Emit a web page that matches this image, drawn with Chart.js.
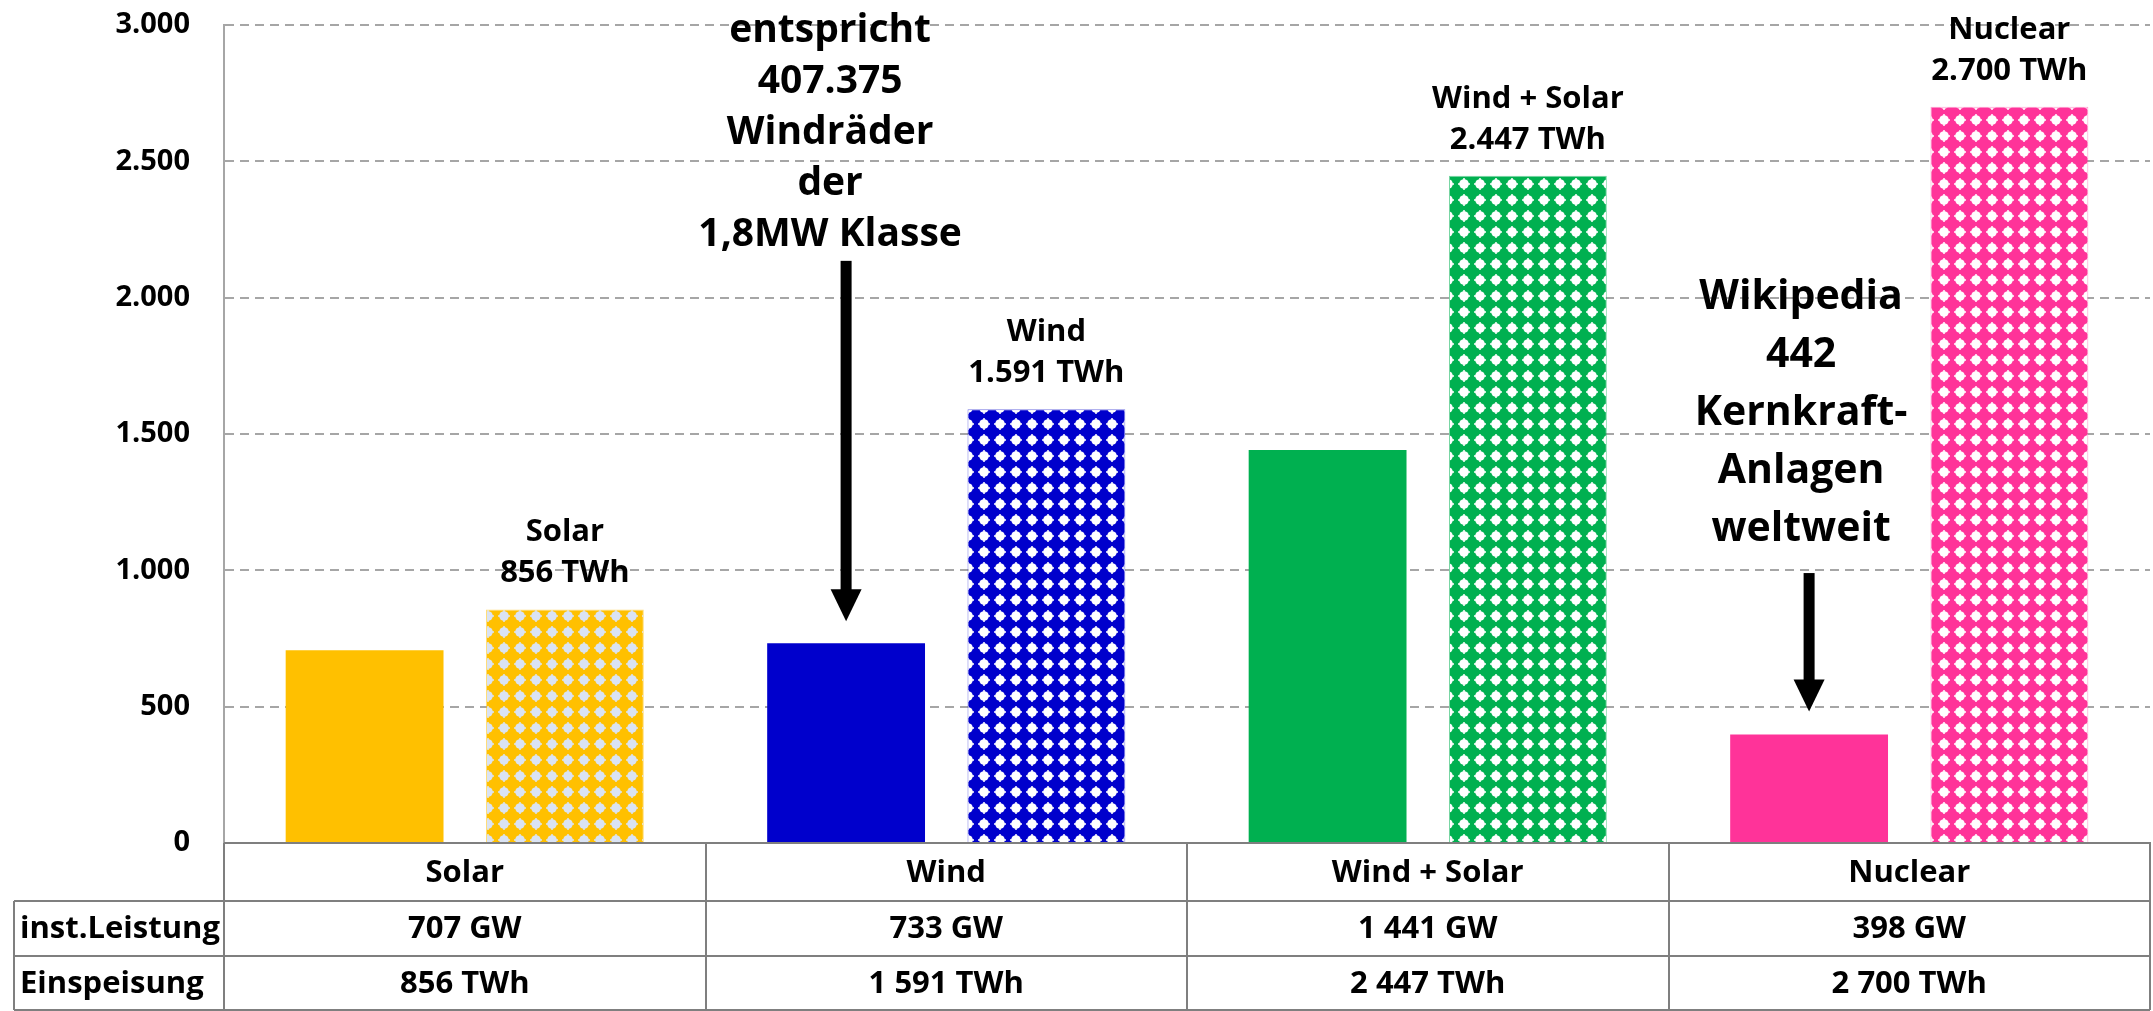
<!DOCTYPE html>
<html>
<head>
<meta charset="utf-8">
<script src="https://cdn.jsdelivr.net/npm/chart.js@4.4.0/dist/chart.umd.min.js"></script>
<style>
  html, body { margin: 0; padding: 0; background: #fff; }
  #wrap { width: 2153px; height: 1011px; }
</style>
</head>
<body>
<div id="wrap"><canvas id="chart" width="2153" height="1011"></canvas></div>
<script>
// values
const categories = ['Solar', 'Wind', 'Wind + Solar', 'Nuclear'];
const installedGW = [707, 733, 1441, 398];
const generationTWh = [856, 1591, 2447, 2700];
const yTicks = [0, 500, 1000, 1500, 2000, 2500, 3000];
const rowLabels = ['inst.Leistung', 'Einspeisung'];
const windNote = ['entspricht', '407.375', 'Windräder', 'der', '1,8MW Klasse'];
const nuclearNote = ['Wikipedia', '442', 'Kernkraft-', 'Anlagen', 'weltweit'];

const barColors = ['#FFC000', '#0000CC', '#00B050', '#FF3399'];
const dotColors = ['#DAE3F3', '#FFFFFF', '#FFFFFF', '#FFFFFF'];
const FONT = "'Open Sans', sans-serif";
const LINE = '#7F7F7F';

const de = v => v.toLocaleString('de-DE');
const spaced = v => de(v).replace(/\./g, ' ');

// dotted fill like the excel pattern
function dotPattern(bg, dot) {
  const c = document.createElement('canvas');
  c.width = 16; c.height = 16;
  const p = c.getContext('2d');
  p.fillStyle = bg;
  p.fillRect(0, 0, 16, 16);
  p.fillStyle = dot;
  p.beginPath();
  p.arc(8, 8, 4.8, 0, Math.PI * 2);
  p.fill();
  p.fillRect(7.25, 2, 1.5, 12);
  p.fillRect(2, 7.25, 12, 1.5);
  return p.createPattern(c, 'repeat');
}

function drawArrow(ctx, x, y1, y2) {
  const headH = 32, headW = 31, shaft = 11;
  ctx.fillStyle = '#000';
  ctx.fillRect(x - shaft / 2, y1, shaft, y2 - y1 - headH + 1);
  ctx.beginPath();
  ctx.moveTo(x - headW / 2, y2 - headH);
  ctx.lineTo(x + headW / 2, y2 - headH);
  ctx.lineTo(x, y2);
  ctx.closePath();
  ctx.fill();
}

function drawLines(ctx, lines, x, y, step, size) {
  ctx.font = 'bold ' + size + 'px ' + FONT;
  ctx.fillStyle = '#000';
  ctx.textAlign = 'center';
  ctx.textBaseline = 'middle';
  lines.forEach((t, i) => ctx.fillText(t, x, y + i * step));
}

const overlay = {
  id: 'overlay',
  afterDatasetsDraw(chart) {
    const ctx = chart.ctx;
    const ys = chart.scales.y;
    const solid = chart.getDatasetMeta(0).data;
    const dotted = chart.getDatasetMeta(1).data;
    ctx.save();
    // labels above the generation bars
    dotted.forEach((bar, i) => {
      drawLines(ctx, [categories[i], de(generationTWh[i]) + ' TWh'], bar.x, bar.y - 77, 41, 31);
    });
    // wind note + arrow
    const w = solid[1];
    drawLines(ctx, windNote, w.x - 16, ys.getPixelForValue(2980), 51, 39);
    drawArrow(ctx, w.x, ys.getPixelForValue(2135), w.y - 22);
    // nuclear note + arrow
    const n = solid[3];
    drawLines(ctx, nuclearNote, n.x - 8, ys.getPixelForValue(2000), 58, 41);
    drawArrow(ctx, n.x, ys.getPixelForValue(990), n.y - 23);
    ctx.restore();
  },
  afterDraw(chart) {
    const ctx = chart.ctx;
    const area = chart.chartArea;
    const xs = chart.scales.x;
    const colW = (area.right - area.left) / categories.length;
    const top = area.bottom;
    const rows = [top, top + 58, top + 113, top + 167];
    const leftEdge = 14;
    ctx.save();
    ctx.strokeStyle = LINE;
    ctx.lineWidth = 2;
    ctx.beginPath();
    // horizontal lines
    ctx.moveTo(area.left, rows[0]); ctx.lineTo(area.right, rows[0]);
    for (let r = 1; r < rows.length; r++) {
      ctx.moveTo(leftEdge, rows[r]); ctx.lineTo(area.right, rows[r]);
    }
    // vertical lines
    for (let i = 0; i <= categories.length; i++) {
      const x = Math.round(area.left + i * colW);
      ctx.moveTo(x, rows[0]); ctx.lineTo(x, rows[3]);
    }
    ctx.moveTo(leftEdge, rows[1]); ctx.lineTo(leftEdge, rows[3]);
    ctx.stroke();

    ctx.fillStyle = '#000';
    ctx.font = 'bold 31px ' + FONT;
    ctx.textBaseline = 'middle';
    ctx.textAlign = 'center';
    categories.forEach((c, i) => {
      const x = xs.getPixelForValue(i);
      ctx.fillText(c, x, (rows[0] + rows[1]) / 2 + 1);
      ctx.fillText(spaced(installedGW[i]) + ' GW', x, (rows[1] + rows[2]) / 2 + 1);
      ctx.fillText(spaced(generationTWh[i]) + ' TWh', x, (rows[2] + rows[3]) / 2 + 1);
    });
    ctx.textAlign = 'left';
    ctx.fillText(rowLabels[0], 20, (rows[1] + rows[2]) / 2 + 1);
    ctx.fillText(rowLabels[1], 20, (rows[2] + rows[3]) / 2 + 1);
    ctx.restore();
  }
};

const ctx = document.getElementById('chart').getContext('2d');
new Chart(ctx, {
  type: 'bar',
  data: {
    labels: categories,
    datasets: [
      {
        label: 'inst.Leistung',
        data: installedGW,
        backgroundColor: barColors,
        borderWidth: 0
      },
      {
        label: 'Einspeisung',
        data: generationTWh,
        backgroundColor: barColors.map((c, i) => dotPattern(c, dotColors[i])),
        borderColor: barColors.map(c => c + '88'),
        borderWidth: 1
      }
    ]
  },
  options: {
    responsive: false,
    devicePixelRatio: 1,
    animation: false,
    categoryPercentage: 0.832,
    barPercentage: 0.788,
    layout: { padding: { top: 25, right: 3, bottom: 0, left: 0 } },
    plugins: {
      legend: { display: false },
      tooltip: { enabled: false }
    },
    scales: {
      x: {
        grid: { display: false, drawTicks: false },
        ticks: { display: false },
        border: { display: true, color: LINE, width: 2 },
        afterFit: s => { s.height = 168; }
      },
      y: {
        min: 0,
        max: 3000,
        afterBuildTicks: s => { s.ticks = yTicks.map(v => ({ value: v })); },
        afterFit: s => { s.width = 224; },
        ticks: {
          padding: 0,
          color: '#000',
          font: { family: FONT, size: 29, weight: 'bold' },
          callback: v => de(v)
        },
        // invisible tick marks keep the labels away from the axis
        grid: { color: '#A6A6A6', lineWidth: 2, drawTicks: true, tickLength: 34, tickColor: 'rgba(0,0,0,0)' },
        border: { display: true, color: '#A6A6A6', width: 2, dash: [9, 6] }
      }
    }
  },
  plugins: [overlay]
});
</script>
</body>
</html>
